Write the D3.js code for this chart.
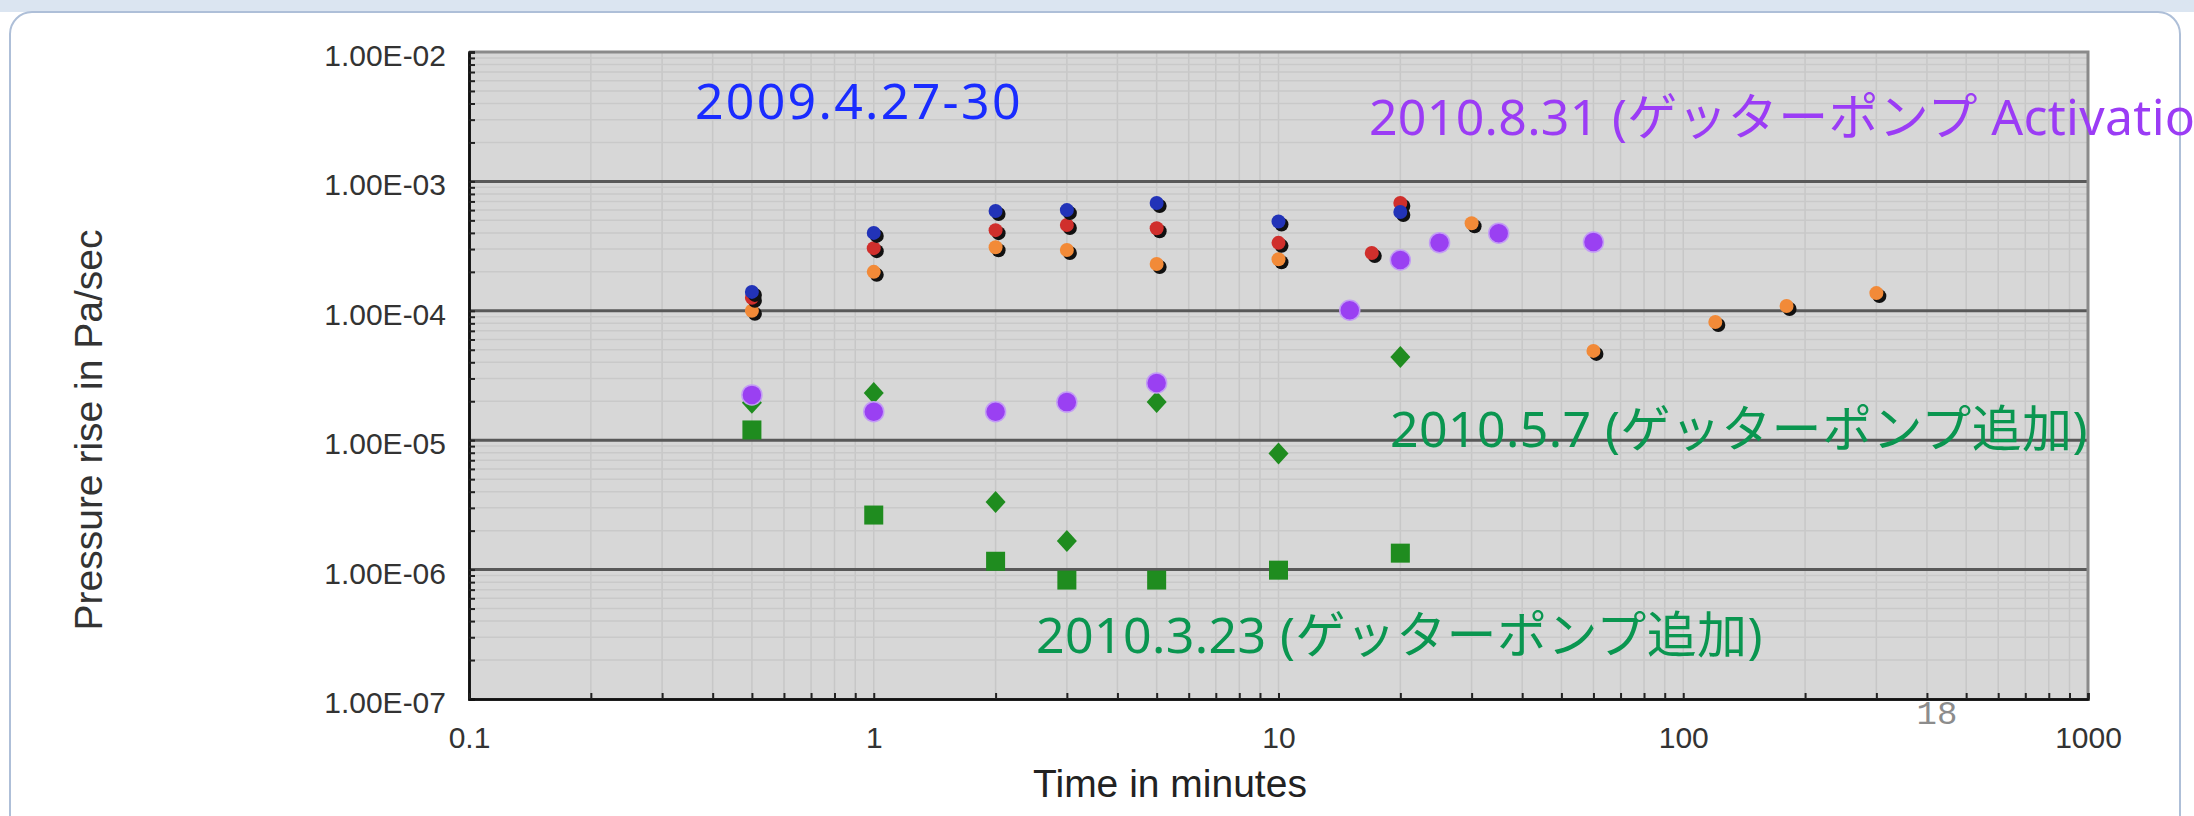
<!DOCTYPE html>
<html>
<head>
<meta charset="utf-8">
<script src="https://cdn.jsdelivr.net/npm/d3@7"></script>
<style>
  html, body { margin: 0; padding: 0; background: #fff; }
  svg { display: block; }
</style>
</head>
<body>
<div id="chart"></div>
<script>
// values (time in minutes, pressure rise in Pa/sec)
var blueX   = [0.5, 1, 2, 3, 5, 10, 20];
var blueY   = [1.4e-4, 4.0e-4, 5.9e-4, 6.0e-4, 6.8e-4, 4.9e-4, 5.8e-4];
var redX    = [0.5, 1, 2, 3, 5, 10, 17, 20];
var redY    = [1.26e-4, 3.05e-4, 4.2e-4, 4.6e-4, 4.35e-4, 3.35e-4, 2.8e-4, 6.8e-4];
var orangeX = [0.5, 1, 2, 3, 5, 10, 30, 60, 120, 180, 300];
var orangeY = [1.0e-4, 2.0e-4, 3.1e-4, 2.95e-4, 2.3e-4, 2.5e-4, 4.75e-4, 4.9e-5, 8.2e-5, 1.09e-4, 1.37e-4];
var purpleX = [0.5, 1, 2, 3, 5, 15, 20, 25, 35, 60];
var purpleY = [2.24e-5, 1.66e-5, 1.66e-5, 1.97e-5, 2.77e-5, 1.01e-4, 2.47e-4, 3.36e-4, 3.98e-4, 3.4e-4];
var diamondX = [0.5, 1, 2, 3, 5, 10, 20];
var diamondY = [1.95e-5, 2.32e-5, 3.33e-6, 1.66e-6, 1.97e-5, 7.9e-6, 4.4e-5];
var squareX  = [0.5, 1, 2, 3, 5, 10, 20];
var squareY  = [1.2e-5, 2.64e-6, 1.16e-6, 8.3e-7, 8.3e-7, 9.9e-7, 1.34e-6];

var xTicks = [0.1, 1, 10, 100, 1000];
var yTicks = [1e-7, 1e-6, 1e-5, 1e-4, 1e-3, 1e-2];

var noteText  = ["2009.4.27-30", "2010.8.31 (ゲッターポンプ Activation)", "2010.5.7 (ゲッターポンプ追加)", "2010.3.23 (ゲッターポンプ追加)"];
var noteX     = [0.3615, 16.73, 18.86, 2.517];
var noteY     = [3.03e-3, 2.29e-3, 8.85e-6, 2.26e-7];
var noteColor = ["#1a2cff", "#9b3cf5", "#0a9650", "#0a9650"];
var noteSpacing = [2.3, 0.3, 0.4, 0.4];

var width = 2194, height = 816;
var plotL = 469, plotR = 2088, plotT = 52, plotB = 699;

var svg = d3.select("#chart").append("svg")
	.attr("width", width)
	.attr("height", height);

// window frame behind the chart
svg.append("rect").attr("x", 0).attr("y", 0).attr("width", width).attr("height", 12).attr("fill", "#dbe5f1");
svg.append("rect")
	.attr("x", 10).attr("y", 12).attr("width", 2170).attr("height", 840).attr("rx", 22)
	.attr("fill", "#fff").attr("stroke", "#aebfd8").attr("stroke-width", 2);

var x = d3.scaleLog().domain([0.1, 1000]).range([plotL, plotR]);
var y = d3.scaleLog().domain([1e-7, 1e-2]).range([plotB, plotT]);

var minorX = [], minorY = [];
xTicks.slice(0, -1).forEach(d => { for (var k = 2; k < 10; k++) minorX.push(d * k); });
yTicks.slice(0, -1).forEach(d => { for (var k = 2; k < 10; k++) minorY.push(d * k); });

svg.append("rect")
	.attr("x", plotL).attr("y", plotT)
	.attr("width", plotR - plotL).attr("height", plotB - plotT)
	.attr("fill", "#d7d7d7");

var grid = svg.append("g");
grid.selectAll(".vminor").data(minorX.concat(xTicks)).enter().append("line")
	.attr("x1", d => x(d)).attr("x2", d => x(d))
	.attr("y1", plotT).attr("y2", plotB)
	.attr("stroke", "#c7c7c7").attr("stroke-width", 1.5);
grid.selectAll(".hminor").data(minorY).enter().append("line")
	.attr("x1", plotL).attr("x2", plotR)
	.attr("y1", d => y(d)).attr("y2", d => y(d))
	.attr("stroke", "#c9c9c9").attr("stroke-width", 1.5);
grid.selectAll(".hmajor").data(yTicks.slice(1, -1)).enter().append("line")
	.attr("x1", plotL).attr("x2", plotR)
	.attr("y1", d => y(d)).attr("y2", d => y(d))
	.attr("stroke", "#585858").attr("stroke-width", 3);

// top and right frame of the plot
svg.append("path")
	.attr("d", `M${plotL},${plotT}H${plotR}V${plotB}`)
	.attr("fill", "none").attr("stroke", "#8a8a8a").attr("stroke-width", 3);

var fmt = function(d) {
	var p = d.toExponential(2).split("e");
	var e = +p[1];
	return p[0] + "E" + (e < 0 ? "-" : "+") + String(Math.abs(e)).padStart(2, "0");
};

// axes: labelled decades plus inward minor ticks
var yAxis = svg.append("g").attr("transform", `translate(${plotL},0)`)
	.call(d3.axisLeft(y).tickValues(yTicks).tickFormat(fmt).tickSize(0).tickPadding(23));
var yMinor = svg.append("g").attr("transform", `translate(${plotL},0)`)
	.call(d3.axisLeft(y).tickValues(minorY.concat(yTicks)).tickFormat("").tickSize(-6));
var xAxis = svg.append("g").attr("transform", `translate(0,${plotB})`)
	.call(d3.axisBottom(x).tickValues(xTicks).tickFormat(d => String(d)).tickSize(0).tickPadding(28));
var xMinor = svg.append("g").attr("transform", `translate(0,${plotB})`)
	.call(d3.axisBottom(x).tickValues(minorX.concat(xTicks)).tickFormat("").tickSize(-6));

[yAxis, yMinor, xAxis, xMinor].forEach(g => {
	g.select(".domain").attr("stroke", "#111").attr("stroke-width", 2.5);
	g.selectAll(".tick line").attr("stroke", "#222").attr("stroke-width", 2);
	g.selectAll("text")
		.attr("font-family", "'Liberation Sans', Arial, sans-serif")
		.attr("font-size", 30)
		.attr("fill", "#333");
});
yAxis.selectAll("text").attr("dy", "0.45em");

svg.append("text")
	.attr("transform", "translate(102,430) rotate(-90)")
	.attr("text-anchor", "middle")
	.attr("font-family", "'Liberation Sans', Arial, sans-serif")
	.attr("font-size", 39).attr("fill", "#333")
	.text("Pressure rise in Pa/sec");

svg.append("text")
	.attr("x", 1170).attr("y", 797)
	.attr("text-anchor", "middle")
	.attr("font-family", "'Liberation Sans', Arial, sans-serif")
	.attr("font-size", 39).attr("fill", "#222")
	.text("Time in minutes");

// markers
var toPts = (xs, ys) => xs.map((d, i) => ({t: d, p: ys[i]}));
var marks = svg.append("g");

var drawDots = function(pts, color) {
	marks.append("g").selectAll("circle").data(pts).enter().append("circle")
		.attr("cx", d => x(d.t) + 3).attr("cy", d => y(d.p) + 3).attr("r", 7)
		.attr("fill", "#111");
	marks.append("g").selectAll("circle").data(pts).enter().append("circle")
		.attr("cx", d => x(d.t)).attr("cy", d => y(d.p)).attr("r", 7)
		.attr("fill", color);
};
drawDots(toPts(orangeX, orangeY), "#f28a38");
drawDots(toPts(redX, redY), "#d02f2c");
drawDots(toPts(blueX, blueY), "#2233b8");

marks.append("g").selectAll("rect").data(toPts(squareX, squareY)).enter().append("rect")
	.attr("x", d => x(d.t) - 9.5).attr("y", d => y(d.p) - 9.5)
	.attr("width", 19).attr("height", 19)
	.attr("fill", "#1f8c1f");

marks.append("g").selectAll("path").data(toPts(diamondX, diamondY)).enter().append("path")
	.attr("d", d => `M${x(d.t)},${y(d.p) - 11}l10,11l-10,11l-10,-11z`)
	.attr("fill", "#1f8c1f");

marks.append("g").selectAll("circle").data(toPts(purpleX, purpleY)).enter().append("circle")
	.attr("cx", d => x(d.t)).attr("cy", d => y(d.p)).attr("r", 10)
	.attr("fill", "#9a40f2").attr("stroke", "#c39cf5").attr("stroke-width", 1.5);

// annotations
svg.append("g").selectAll("text").data(noteText).enter().append("text")
	.attr("x", (d, i) => x(noteX[i]))
	.attr("y", (d, i) => y(noteY[i]))
	.attr("font-family", "'Noto Sans', 'Noto Sans CJK JP', sans-serif")
	.attr("font-size", 50)
	.attr("letter-spacing", (d, i) => noteSpacing[i])
	.attr("fill", (d, i) => noteColor[i])
	.text(d => d);

// page number
svg.append("text")
	.attr("x", 1937).attr("y", 724)
	.attr("text-anchor", "middle")
	.attr("font-family", "'Liberation Mono', monospace")
	.attr("font-size", 34).attr("fill", "#8c8c8c")
	.text("18");
</script>
</body>
</html>
